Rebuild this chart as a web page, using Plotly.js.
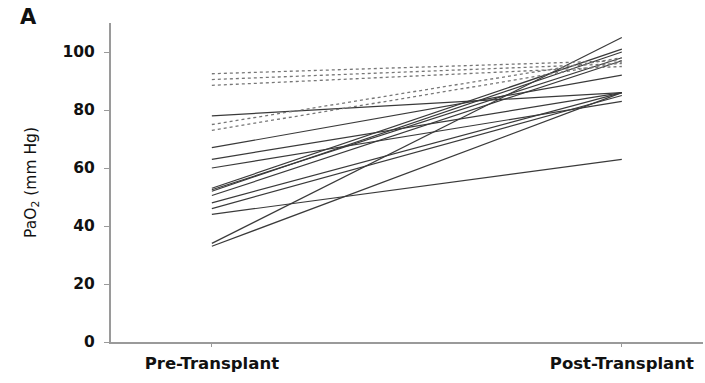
<!DOCTYPE html>
<html>
<head>
<meta charset="utf-8">
<script src="https://cdn.plot.ly/plotly-3.0.1.min.js"></script>
<style>
  html, body { margin: 0; padding: 0; background: #fff; }
  #chart { width: 705px; height: 383px; }
</style>
</head>
<body>
<div id="chart"></div>
<script>
// Paired PaO2 measurements (mm Hg) before and after transplant, one line per patient
const timepoints = ['Pre-Transplant', 'Post-Transplant'];

// patients drawn with solid lines
const solidPre  = [78, 67, 63, 60, 53, 52.5, 52, 50.5, 48, 46, 44, 34, 33];
const solidPost = [86, 92, 86, 83, 101, 98, 100, 97, 86, 85, 63, 105, 86];

// patients drawn with dotted lines
const dottedPre  = [92.5, 90.5, 88.5, 75, 73];
const dottedPost = [97, 96, 95, 98, 96.5];

const yTicks = [0, 20, 40, 60, 80, 100];

const traces = [];
solidPre.forEach((v, i) => {
  traces.push({
    type: 'scatter', mode: 'lines',
    x: timepoints, y: [v, solidPost[i]],
    line: { color: '#3a3a3a', width: 1.2 },
    hoverinfo: 'skip', showlegend: false
  });
});
dottedPre.forEach((v, i) => {
  traces.push({
    type: 'scatter', mode: 'lines',
    x: timepoints, y: [v, dottedPost[i]],
    line: { color: '#777', width: 1.3, dash: 'dot' },
    hoverinfo: 'skip', showlegend: false
  });
});

const font = 'DejaVu Sans, Liberation Sans, Arial, sans-serif';

const layout = {
  width: 705, height: 383,
  margin: { l: 111, r: 2, t: 23, b: 41 },
  paper_bgcolor: '#fff', plot_bgcolor: '#fff',
  showlegend: false,
  xaxis: {
    type: 'category',
    range: [-0.246, 1.198],
    showgrid: false, zeroline: false,
    showline: true, linecolor: '#9a9a9a', linewidth: 2,
    ticks: 'outside', ticklen: 3, tickcolor: '#9a9a9a', tickwidth: 1,
    ticklabelstandoff: 2,
    tickfont: { family: font, size: 16.5, color: '#111', weight: 'bold' }
  },
  yaxis: {
    range: [0, 110],
    tickvals: yTicks,
    showgrid: false, zeroline: false,
    showline: true, linecolor: '#9a9a9a', linewidth: 2,
    ticks: 'outside', ticklen: 5, tickcolor: '#9a9a9a', tickwidth: 1,
    ticklabelstandoff: 6,
    tickfont: { family: font, size: 15.5, color: '#111', weight: 'bold' },
    title: {
      text: 'PaO<sub>2</sub> (mm Hg)',
      font: { family: font, size: 15.5, color: '#111' },
      standoff: 22
    }
  },
  annotations: [{
    text: 'A', xref: 'paper', yref: 'paper',
    x: -0.140, y: 1.019, xanchor: 'center', yanchor: 'middle',
    showarrow: false,
    font: { family: font, size: 21, color: '#111', weight: 'bold' }
  }]
};

Plotly.newPlot('chart', traces, layout, { staticPlot: true, displayModeBar: false });
</script>
</body>
</html>
